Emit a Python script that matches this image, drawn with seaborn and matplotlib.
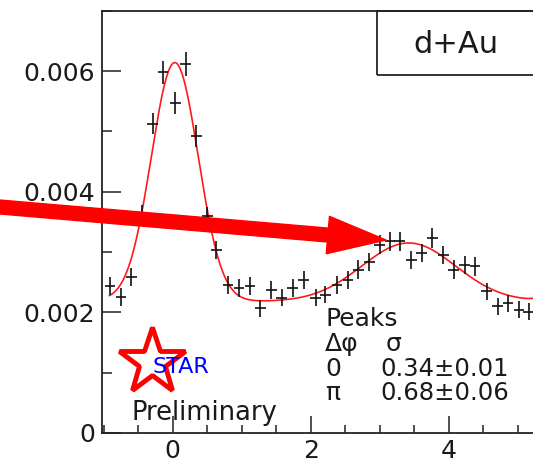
import numpy as np
import pandas as pd
import matplotlib
matplotlib.use("Agg")
import matplotlib.pyplot as plt
import seaborn as sns
from matplotlib.patches import FancyArrowPatch, Rectangle
from matplotlib.lines import Line2D
from matplotlib.ticker import MultipleLocator

# ---------------- data ----------------
dphi = [-0.91, -0.75, -0.60, -0.45, -0.29, -0.14, 0.04, 0.19, 0.34, 0.50,
        0.63, 0.80, 0.96, 1.12, 1.27, 1.43, 1.58, 1.74, 1.90, 2.07,
        2.21, 2.38, 2.54, 2.69, 2.85, 3.00, 3.15, 3.29, 3.46, 3.61,
        3.76, 3.92, 4.07, 4.23, 4.38, 4.55, 4.71, 4.86, 5.02, 5.16]
counts = [0.00244, 0.00226, 0.00259, 0.00362, 0.00513, 0.00598, 0.00547, 0.00612, 0.00492, 0.00359,
          0.00304, 0.00246, 0.00240, 0.00243, 0.00207, 0.00237, 0.00224, 0.00240, 0.00254, 0.00224,
          0.00229, 0.00246, 0.00254, 0.00271, 0.00284, 0.00312, 0.00318, 0.00318, 0.00287, 0.00298,
          0.00323, 0.00295, 0.00271, 0.00279, 0.00276, 0.00235, 0.00210, 0.00215, 0.00204, 0.00201]
count_err = [0.00015, 0.00015, 0.00015, 0.00016, 0.00018, 0.00019, 0.00018, 0.00020, 0.00018, 0.00016,
             0.00015, 0.00015, 0.00015, 0.00015, 0.00014, 0.00015, 0.00014, 0.00015, 0.00015, 0.00014,
             0.00014, 0.00015, 0.00015, 0.00015, 0.00015, 0.00016, 0.00016, 0.00016, 0.00015, 0.00015,
             0.00016, 0.00015, 0.00015, 0.00015, 0.00015, 0.00014, 0.00014, 0.00014, 0.00014, 0.00014]
bin_half_width = 0.078

# fit function parameters (two Gaussians on a flat pedestal)
fit_base = 0.00218
near_amp, near_mu, near_sigma = 0.00396, 0.03, 0.34
away_amp, away_mu, away_sigma = 0.00097, 3.42, 0.68
fit_range = (-0.92, 5.35)

peak_header = ("\u0394\u03c6", "\u03c3")
peak_rows = [("0", "0.34\u00b10.01"), ("\u03c0", "0.68\u00b10.06")]
system_label = "d+Au"

y_ticks = [0, 0.002, 0.004, 0.006]
y_tick_labels = ["0", "0.002", "0.004", "0.006"]
x_ticks = [0, 2, 4]
x_tick_labels = ["0", "2", "4"]

# ---------------- figure ----------------
W, H = 533, 467
sns.set_theme(style="ticks")
plt.rcParams["font.family"] = ["DejaVu Sans"]

fig = plt.figure(figsize=(W / 100, H / 100), dpi=100, facecolor="white")


def fx(px):
    return px / W


def fy(py):
    return 1 - py / H


ax_l, ax_r, ax_t, ax_b = 102, 538.4, 10.7, 433
ax = fig.add_axes([fx(ax_l), fy(ax_b), (ax_r - ax_l) / W, (ax_b - ax_t) / H])
ax.set_facecolor("white")


def model(x):
    y = np.full_like(x, fit_base)
    for k in (-1, 0, 1):
        s = 2 * np.pi * k
        y = y + near_amp * np.exp(-0.5 * ((x - near_mu - s) / near_sigma) ** 2)
        y = y + away_amp * np.exp(-0.5 * ((x - away_mu - s) / away_sigma) ** 2)
    return y


xs = np.linspace(fit_range[0], fit_range[1], 500)
fit_df = pd.DataFrame({"dphi": xs, "fit": model(xs)})
sns.lineplot(data=fit_df, x="dphi", y="fit", color="#ff1a1a", lw=1.2, ax=ax, zorder=3)

ax.errorbar(dphi, counts, xerr=bin_half_width, yerr=count_err, fmt="none",
            ecolor="#111111", elinewidth=1.2, capsize=0, zorder=4)

ax.set_xlim(-1.025, 5.3)
ax.set_ylim(0, 0.0070)
ax.set_xlabel("")
ax.set_ylabel("")
ax.set_xticks(x_ticks, labels=x_tick_labels)
ax.set_yticks(y_ticks, labels=y_tick_labels)
ax.xaxis.set_minor_locator(MultipleLocator(0.5))
ax.yaxis.set_minor_locator(MultipleLocator(0.001))
ax.tick_params(axis="both", which="both", direction="in", top=False, right=False,
               color="#222222", width=1.1, labelsize=18, labelcolor="#1a1a1a")
ax.tick_params(axis="y", which="major", length=14, pad=5)
ax.tick_params(axis="y", which="minor", length=7)
ax.tick_params(axis="x", which="major", length=12, pad=4)
ax.tick_params(axis="x", which="minor", length=6)
for sp in ax.spines.values():
    sp.set_linewidth(1.3)
    sp.set_color("#222222")

# system label box
fig.add_artist(Rectangle((fx(377), fy(75)), 0.5, fy(10.7) - fy(75), fill=False,
                         lw=1.3, edgecolor="#222222", transform=fig.transFigure))
fig.text(fx(456), fy(53), system_label, ha="center", va="baseline", fontsize=22, color="#1a1a1a")

# peaks table
fs = 18
fig.text(fx(325), fy(326), "Peaks", fontsize=fs, va="baseline", color="#1a1a1a")
fig.text(fx(325), fy(351), peak_header[0], fontsize=fs, va="baseline", color="#1a1a1a")
fig.text(fx(386), fy(351), peak_header[1], fontsize=fs, va="baseline", color="#1a1a1a")
for i, (pos, val) in enumerate(peak_rows):
    yb = 376 + 24 * i
    fig.text(fx(325), fy(yb), pos, fontsize=fs, va="baseline", color="#1a1a1a")
    fig.text(fx(380), fy(yb), val, fontsize=17.5, va="baseline", color="#1a1a1a")

# STAR logo
fig.add_artist(Line2D([fx(152)], [fy(362)], marker="*", ms=50, mfc="none", mec="red",
                      mew=3.5, transform=fig.transFigure))
fig.text(fx(152), fy(373), "STAR", color="blue", fontsize=16, va="baseline")
fig.text(fx(131), fy(420), "Preliminary", fontsize=18.5, va="baseline", color="#1a1a1a")

# big red arrow
arrow = FancyArrowPatch(posA=(fx(-6), fy(206.5)), posB=(fx(386), fy(240)),
                        transform=fig.transFigure,
                        arrowstyle="simple,head_length=42,head_width=27,tail_width=10",
                        mutation_scale=1, color="red", shrinkA=0, shrinkB=0, zorder=10)
fig.add_artist(arrow)

fig.savefig("out.png", dpi=100, facecolor="white")
